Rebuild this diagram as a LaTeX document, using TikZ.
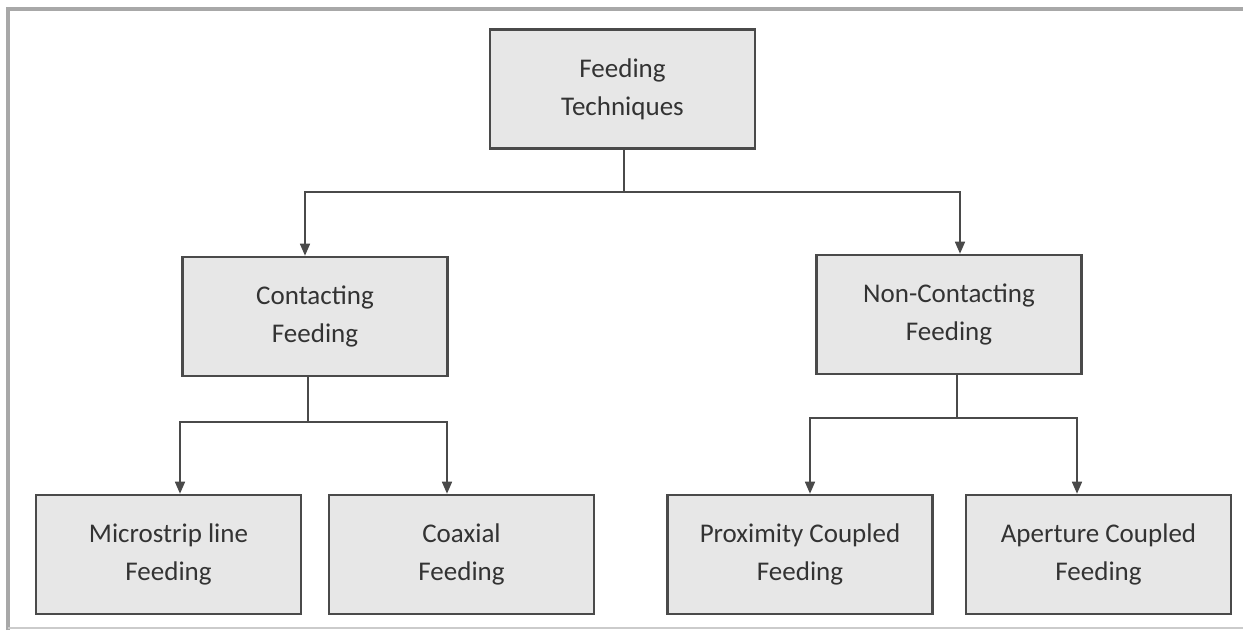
\documentclass[tikz,border=0pt]{standalone}
\usepackage{fontspec}
\setmainfont{Carlito}
\usetikzlibrary{arrows.meta}
\definecolor{boxfill}{HTML}{E7E7E7}
\definecolor{boxline}{HTML}{4A4A4A}
\definecolor{txt}{HTML}{333333}
\definecolor{frame}{HTML}{A8A8A8}
\begin{document}
\begin{tikzpicture}[x=1pt,y=-1pt,
  box/.style={draw=boxline, line width=2.6pt, fill=boxfill, minimum width=265pt, minimum height=119pt,
    inner sep=0pt, align=center, text=txt, font=\fontsize{27}{38}\selectfont},
  conn/.style={draw=boxline, line width=1.6pt},
  arr/.style={conn, -{Triangle[width=10pt,length=12pt]}}]
\useasboundingbox (0,0) rectangle (1243,630);
\fill[white] (0,0) rectangle (1243,630);
% frame
\draw[frame, line width=4pt] (8,630) -- (8,9) -- (1243,9);
\draw[frame!60, line width=1.5pt] (8,628) -- (1243,628);
% nodes
\node[box] (top)  at (622.5,89)  {Feeding\\Techniques};
\node[box] (cont) at (315,316.5) {Contacting\\Feeding};
\node[box] (ncon) at (949,314.5) {Non-Contacting\\Feeding};
\node[box] (micro) at (168.5,554.5) {Microstrip line\\Feeding};
\node[box] (coax) at (461.5,554.5) {Coaxial\\Feeding};
\node[box] (prox) at (800,554.5) {Proximity Coupled\\Feeding};
\node[box] (aper) at (1098.5,554.5) {Aperture Coupled\\Feeding};
% connectors
\coordinate (j0) at (624,192);
\coordinate (j1) at (308,422);
\coordinate (j2) at (957,418);
\draw[conn] ([xshift=1.5pt]top.south) -- (j0);
\draw[arr] (j0) -| ([xshift=-10pt]cont.north);
\draw[arr] (j0) -| ([xshift=11pt]ncon.north);
\draw[conn] ([xshift=-7pt]cont.south) -- (j1);
\draw[arr] (j1) -| ([xshift=11.5pt]micro.north);
\draw[arr] (j1) -| ([xshift=-14.5pt]coax.north);
\draw[conn] ([xshift=8pt]ncon.south) -- (j2);
\draw[arr] (j2) -| ([xshift=10pt]prox.north);
\draw[arr] (j2) -| ([xshift=-21.5pt]aper.north);
\end{tikzpicture}
\end{document}
